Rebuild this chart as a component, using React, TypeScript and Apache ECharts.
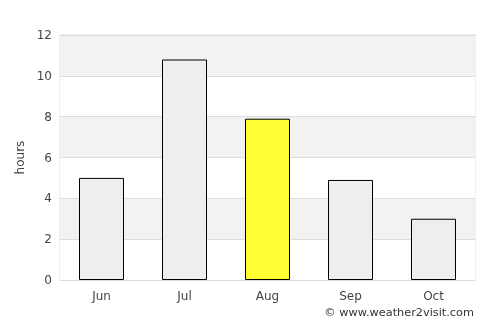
import React, { useEffect, useRef } from "react";
import * as echarts from "echarts";

const categories = ["Jun", "Jul", "Aug", "Sep", "Oct"];
const values = [5.0, 10.8, 7.9, 4.9, 3.0];
const highlightIndex = 2;
const yTicks = { min: 0, max: 12, interval: 2 };

export default function App() {
  const ref = useRef<HTMLDivElement>(null);
  useEffect(() => {
    if (!ref.current) return;
    const chart = echarts.init(ref.current, null, { renderer: "svg" });
    const font = "DejaVu Sans";
    chart.setOption({
      animation: false,
      textStyle: { fontFamily: font },
      grid: {
        left: 60,
        right: 25,
        top: 35,
        bottom: 45,
        show: true,
        borderColor: "#dddddd",
        borderWidth: 1,
        backgroundColor: "transparent",
      },
      xAxis: {
        type: "category",
        data: categories,
        axisLine: { show: true, lineStyle: { color: "#dddddd" } },
        axisTick: { show: false },
        axisLabel: { color: "#444", fontSize: 12, margin: 10, fontFamily: font },
      },
      yAxis: {
        type: "value",
        min: yTicks.min,
        max: yTicks.max,
        interval: yTicks.interval,
        name: "hours",
        nameLocation: "middle",
        nameGap: 34,
        nameTextStyle: { color: "#444", fontSize: 12, fontFamily: font },
        axisLine: { show: false },
        axisTick: { show: false },
        axisLabel: { color: "#444", fontSize: 12, margin: 8, fontFamily: font },
        splitLine: { show: true, lineStyle: { color: "#dddddd" } },
        splitArea: { show: true, areaStyle: { color: ["#ffffff", "#f2f2f2"] } },
      },
      series: [
        {
          type: "bar",
          data: values.map((v, i) => ({
            value: v,
            itemStyle: { color: i === highlightIndex ? "#ffff33" : "#eeeeee" },
          })),
          barWidth: 45,
          itemStyle: { borderColor: "#000", borderWidth: 1 },
        },
      ],
      graphic: [
        {
          type: "text",
          right: 26,
          top: 307,
          style: {
            text: "© www.weather2visit.com",
            fill: "#333",
            fontSize: 11.3,
            fontFamily: font,
          },
        },
      ],
    });
    return () => chart.dispose();
  }, []);
  return (
    <div
      ref={ref}
      style={{ position: "fixed", left: 0, top: 0, width: 500, height: 325 }}
    />
  );
}
